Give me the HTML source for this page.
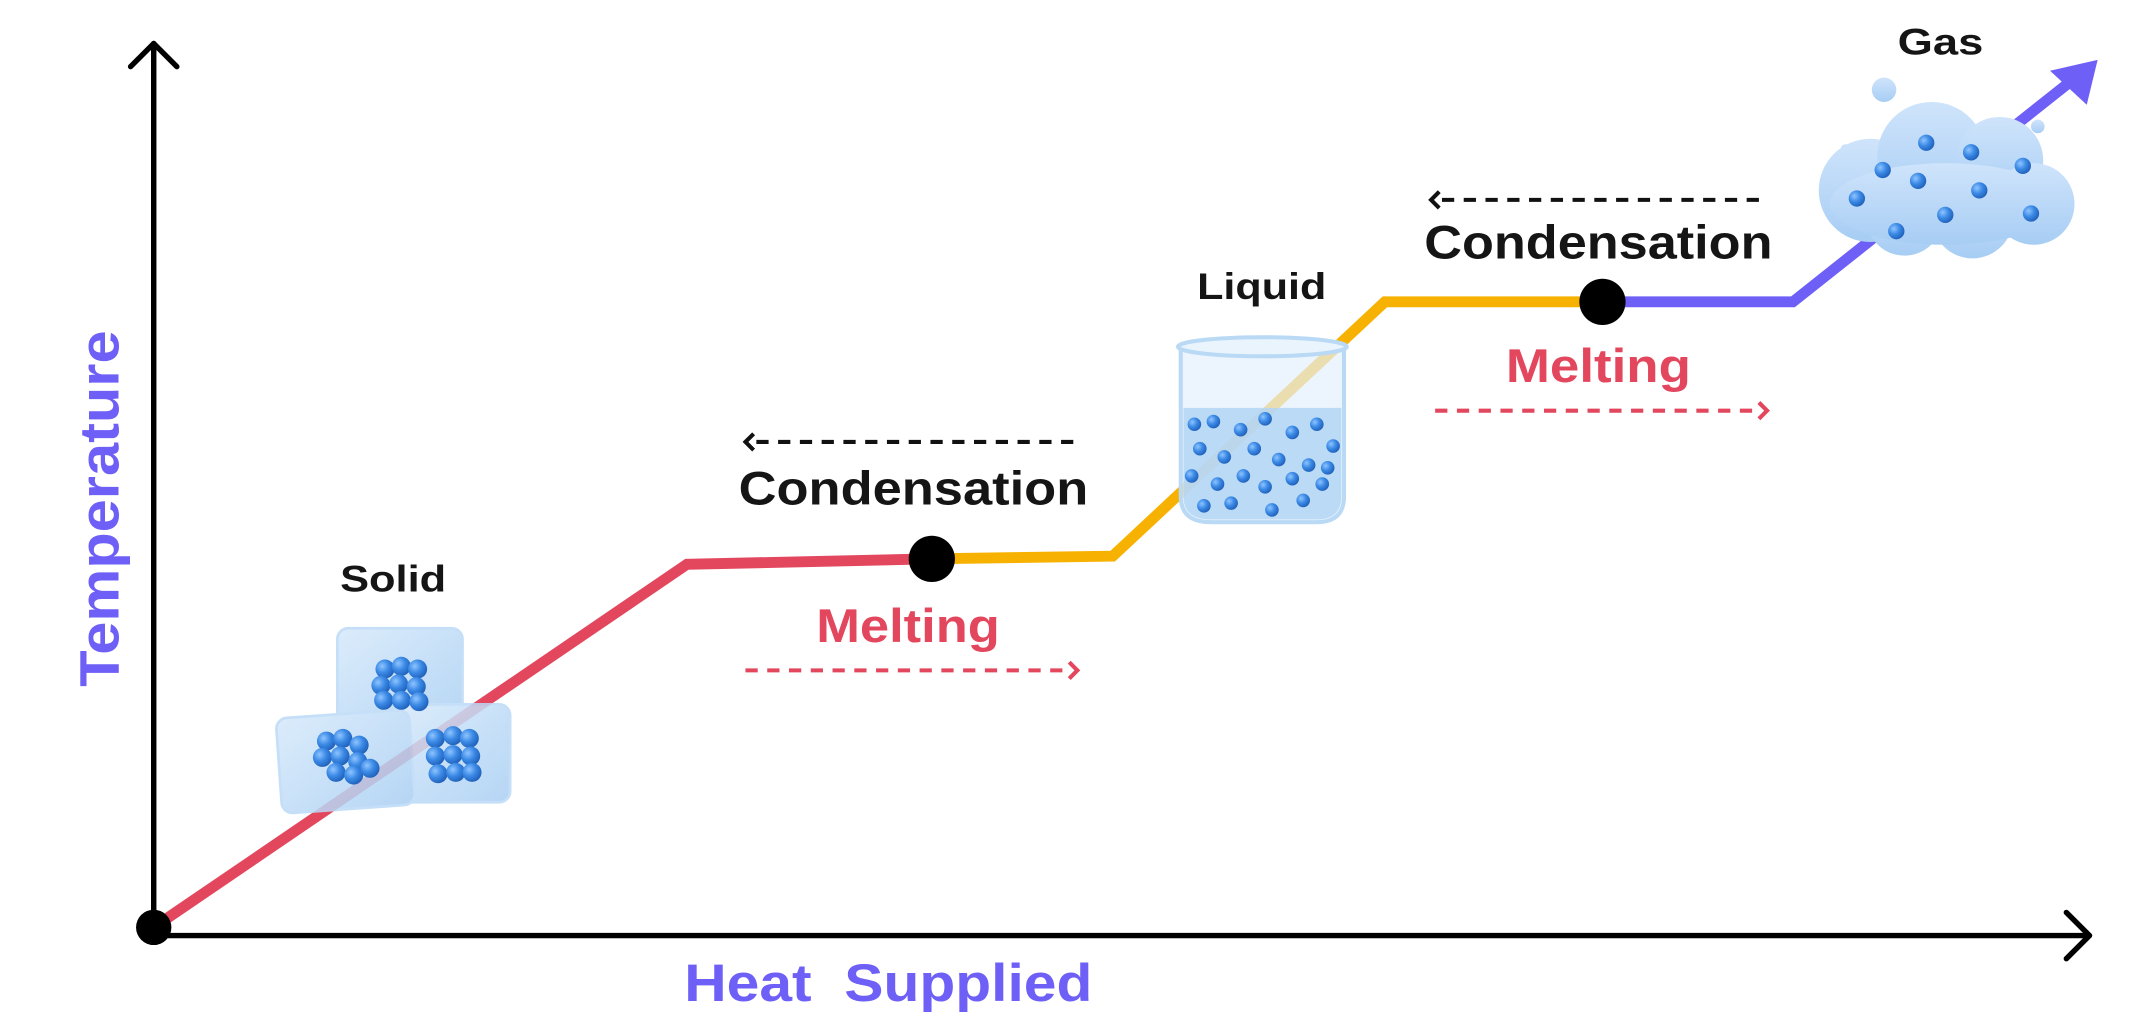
<!DOCTYPE html>
<html><head><meta charset="utf-8"><style>
html,body{margin:0;padding:0;background:#fff;}
svg{display:block;}
text{font-family:"Liberation Sans",sans-serif;font-weight:bold;}
</style></head><body>
<svg width="2133" height="1028" viewBox="0 0 1568 756" preserveAspectRatio="none" xmlns="http://www.w3.org/2000/svg">
<defs>
<radialGradient id="mol" cx="35%" cy="35%" r="70%"><stop offset="0" stop-color="#8fc4ff"/><stop offset="0.5" stop-color="#3b8ae6"/><stop offset="1" stop-color="#1f5fb8"/></radialGradient>
<linearGradient id="ice" x1="0" y1="0" x2="1" y2="1"><stop offset="0" stop-color="#d6e9fb"/><stop offset="1" stop-color="#a9cff3"/></linearGradient>
<linearGradient id="cloud" x1="0" y1="0" x2="0" y2="1"><stop offset="0" stop-color="#cfe4fb"/><stop offset="1" stop-color="#a7cdf4"/></linearGradient>
</defs>
<g stroke="#000" stroke-width="4" fill="none" stroke-linecap="round" stroke-linejoin="round">
<line x1="113" y1="32" x2="113" y2="688"/>
<polyline points="96,49 113,32 130,49"/>
<line x1="113" y1="688" x2="1536" y2="688"/>
<polyline points="1519,671 1536,688 1519,705"/>
</g>
<g fill="none" stroke-width="8" stroke-linejoin="miter">
<polyline stroke="#e3475e" points="113,682 505,415 685,411"/>
<polyline stroke="#f7b100" points="685,411 818,409 1018,222 1178,222"/>
<polyline stroke="#6e5ff7" points="1178,222 1318,222 1522,60"/>
</g>
<polygon fill="#6e5ff7" points="1542,44 1507,52 1534,77"/>
<circle cx="113" cy="682" r="13" fill="#000"/>
<circle cx="685" cy="411" r="17" fill="#000"/>
<circle cx="1178" cy="222" r="17" fill="#000"/>
<g stroke-width="3" fill="none">
<line x1="556" y1="325" x2="790" y2="325" stroke="#111" stroke-dasharray="9,7"/>
<polyline points="554,319 548,325 554,331" stroke="#111"/>
<line x1="548" y1="493" x2="784" y2="493" stroke="#e3475e" stroke-dasharray="9,7"/>
<polyline points="786,487 792,493 786,499" stroke="#e3475e"/>
<line x1="1060" y1="147" x2="1295" y2="147" stroke="#111" stroke-dasharray="9,7"/>
<polyline points="1058,141 1052,147 1058,153" stroke="#111"/>
<line x1="1055" y1="302" x2="1291" y2="302" stroke="#e3475e" stroke-dasharray="9,7"/>
<polyline points="1293,296 1299,302 1293,308" stroke="#e3475e"/>
</g>
<text x="543" y="371" font-size="35" fill="#151515" textLength="257" lengthAdjust="spacingAndGlyphs">Condensation</text>
<text x="600" y="472" font-size="35" fill="#e3475e" textLength="135" lengthAdjust="spacingAndGlyphs">Melting</text>
<text x="1047" y="190" font-size="35" fill="#151515" textLength="256" lengthAdjust="spacingAndGlyphs">Condensation</text>
<text x="1107" y="281" font-size="35" fill="#e3475e" textLength="136" lengthAdjust="spacingAndGlyphs">Melting</text>
<text x="250" y="435" font-size="27" fill="#151515" textLength="78" lengthAdjust="spacingAndGlyphs">Solid</text>
<text x="880" y="220" font-size="27" fill="#151515" textLength="95" lengthAdjust="spacingAndGlyphs">Liquid</text>
<text x="1395" y="40" font-size="27" fill="#151515" textLength="63" lengthAdjust="spacingAndGlyphs">Gas</text>
<text x="503" y="736" font-size="39" fill="#6e5ff7" textLength="300" lengthAdjust="spacingAndGlyphs" xml:space="preserve">Heat  Supplied</text>
<text transform="translate(87,505) rotate(-90)" font-size="41" fill="#6e5ff7" textLength="262" lengthAdjust="spacingAndGlyphs">Temperature</text>
<g opacity="0.85">
<rect x="248" y="462" width="92" height="72" rx="8" fill="url(#ice)" stroke="#bcdaf7" stroke-width="2"/>
<rect x="290" y="518" width="85" height="72" rx="8" fill="url(#ice)" stroke="#bcdaf7" stroke-width="2"/>
<rect x="205" y="525" width="98" height="70" rx="8" fill="url(#ice)" stroke="#bcdaf7" stroke-width="2" transform="rotate(-4 254 560)"/>
</g>
<g fill="url(#mol)">
<circle cx="283" cy="492" r="7"/><circle cx="295" cy="490" r="7"/><circle cx="307" cy="492" r="7"/>
<circle cx="280" cy="504" r="7"/><circle cx="293" cy="503" r="7"/><circle cx="306" cy="505" r="7"/>
<circle cx="282" cy="515" r="7"/><circle cx="295" cy="515" r="7"/><circle cx="308" cy="516" r="7"/>
<circle cx="240" cy="545" r="7"/><circle cx="252" cy="543" r="7"/><circle cx="264" cy="548" r="7"/>
<circle cx="237" cy="557" r="7"/><circle cx="250" cy="556" r="7"/><circle cx="263" cy="560" r="7"/>
<circle cx="247" cy="568" r="7"/><circle cx="260" cy="570" r="7"/><circle cx="272" cy="565" r="7"/>
<circle cx="320" cy="543" r="7"/><circle cx="333" cy="541" r="7"/><circle cx="345" cy="543" r="7"/>
<circle cx="320" cy="556" r="7"/><circle cx="333" cy="555" r="7"/><circle cx="346" cy="556" r="7"/>
<circle cx="322" cy="569" r="7"/><circle cx="335" cy="568" r="7"/><circle cx="347" cy="568" r="7"/>
</g>
<path d="M868,256 L868,365 Q868,384 890,384 L968,384 Q988,384 988,365 L988,256 Z" fill="#e4f1fc" fill-opacity="0.7" stroke="#b9d9f5" stroke-width="3"/>
<path d="M870,300 L986,300 L986,365 Q986,382 968,382 L890,382 Q870,382 870,365 Z" fill="#b3d5f5" fill-opacity="0.85"/>
<ellipse cx="928" cy="255" rx="62" ry="7" fill="#eaf4fd" stroke="#b9d9f5" stroke-width="3"/>
<g fill="url(#mol)">
<circle cx="878" cy="312" r="5"/><circle cx="892" cy="310" r="5"/><circle cx="912" cy="316" r="5"/><circle cx="930" cy="308" r="5"/><circle cx="950" cy="318" r="5"/><circle cx="968" cy="312" r="5"/><circle cx="980" cy="328" r="5"/>
<circle cx="882" cy="330" r="5"/><circle cx="900" cy="336" r="5"/><circle cx="922" cy="330" r="5"/><circle cx="940" cy="338" r="5"/><circle cx="962" cy="342" r="5"/>
<circle cx="876" cy="350" r="5"/><circle cx="895" cy="356" r="5"/><circle cx="914" cy="350" r="5"/><circle cx="930" cy="358" r="5"/><circle cx="950" cy="352" r="5"/><circle cx="972" cy="356" r="5"/>
<circle cx="885" cy="372" r="5"/><circle cx="905" cy="370" r="5"/><circle cx="935" cy="375" r="5"/><circle cx="958" cy="368" r="5"/><circle cx="976" cy="344" r="5"/>
</g>
<g fill="url(#cloud)">
<circle cx="1385" cy="66" r="9"/><circle cx="1498" cy="93" r="5"/><circle cx="1357" cy="110" r="4"/>
<circle cx="1375" cy="140" r="38"/><circle cx="1420" cy="115" r="40"/><circle cx="1470" cy="118" r="32"/><circle cx="1495" cy="150" r="30"/>
<circle cx="1400" cy="160" r="28"/><circle cx="1450" cy="160" r="30"/><ellipse cx="1430" cy="150" rx="85" ry="30"/>
</g>
<g fill="url(#mol)">
<circle cx="1416" cy="105" r="6"/><circle cx="1449" cy="112" r="6"/><circle cx="1487" cy="122" r="6"/><circle cx="1384" cy="125" r="6"/><circle cx="1410" cy="133" r="6"/><circle cx="1455" cy="140" r="6"/><circle cx="1365" cy="146" r="6"/><circle cx="1430" cy="158" r="6"/><circle cx="1493" cy="157" r="6"/><circle cx="1394" cy="170" r="6"/>
</g>
</svg>
</body></html>
